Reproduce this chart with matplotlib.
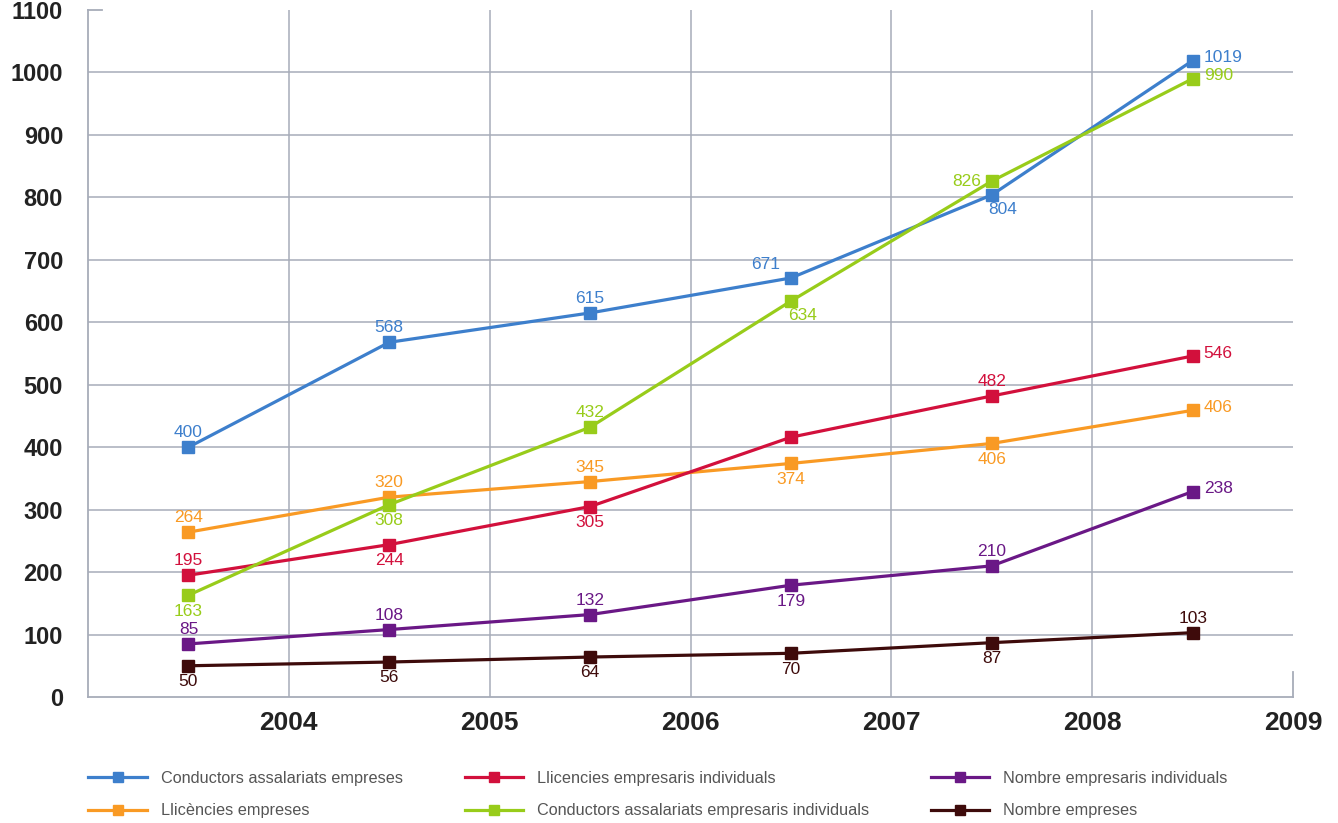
import matplotlib.pyplot as plt

plt.rcParams['font.family'] = ['Liberation Sans', 'DejaVu Sans']

# x positions: middle of each year
years = [2003.5, 2004.5, 2005.5, 2006.5, 2007.5, 2008.5]
year_ticks = [2004, 2005, 2006, 2007, 2008, 2009]
y_ticks = [0, 100, 200, 300, 400, 500, 600, 700, 800, 900, 1000, 1100]

names = ["Conductors assalariats empreses", "Llicències empreses",
         "Llicencies empresaris individuals", "Conductors assalariats empresaris individuals",
         "Nombre empresaris individuals", "Nombre empreses"]

# plotted heights and the numbers printed next to them
blue = [400, 568, 615, 671, 804, 1019]
blue_lbl = ["400", "568", "615", "671", "804", "1019"]
orange = [264, 320, 345, 374, 406, 459]
orange_lbl = ["264", "320", "345", "374", "406", "406"]
red = [195, 244, 305, 416, 482, 546]
red_lbl = ["195", "244", "305", None, "482", "546"]
green = [163, 308, 432, 634, 826, 990]
green_lbl = ["163", "308", "432", "634", "826", "990"]
purple = [85, 108, 132, 179, 210, 329]
purple_lbl = ["85", "108", "132", "179", "210", "238"]
brown = [50, 56, 64, 70, 87, 103]
brown_lbl = ["50", "56", "64", "70", "87", "103"]

series = [blue, orange, red, green, purple, brown]
labels = [blue_lbl, orange_lbl, red_lbl, green_lbl, purple_lbl, brown_lbl]
colors = ['#3d7fcc', '#f99a24', '#d2103c', '#98cc1a', '#6a1886', '#3e0b0b']

# where each number sits relative to its point
places = [
    ['a', 'a', 'a', 'al', 'br', 'r'],
    ['a', 'a', 'a', 'b', 'b', 'r'],
    ['a', 'b', 'b', 'a', 'a', 'r'],
    ['b', 'b', 'a', 'br', 'l', 'r'],
    ['a', 'a', 'a', 'b', 'a', 'r'],
    ['b', 'b', 'b', 'b', 'b', 'a'],
]
offs = {
    'a': ((0, 5), 'center', 'bottom'),
    'b': ((0, -6), 'center', 'top'),
    'r': ((8, 2), 'left', 'center'),
    'l': ((-8, 0), 'right', 'center'),
    'al': ((-8, 4), 'right', 'bottom'),
    'br': ((8, -5), 'center', 'top'),
}

fig = plt.figure(figsize=(13.38, 8.23), dpi=100)
ax = fig.add_axes([0.0658, 0.1531, 0.9006, 0.8347])

grid_c = '#a7acb9'
for v in y_ticks[1:-1]:
    ax.axhline(v, color=grid_c, lw=1.1, zorder=1)
for yr in year_ticks[:-1]:
    ax.axvline(yr, color=grid_c, lw=1.1, zorder=1)

handles = []
for vals, lbls, col, pl, nm in zip(series, labels, colors, places, names):
    h, = ax.plot(years, vals, color=col, lw=2.3, marker='s', markersize=8,
                 label=nm, zorder=3)
    handles.append(h)
    for x, v, t, p in zip(years, vals, lbls, pl):
        if t is None:
            continue
        (dx, dy), ha, va = offs[p]
        ax.annotate(t, (x, v), xytext=(dx, dy), textcoords='offset points',
                    ha=ha, va=va, color=col, fontsize=12.5, zorder=4)

ax.set_xlim(2003, 2009)
ax.set_ylim(0, 1100)
ax.set_xticks(year_ticks)
ax.set_xticklabels([str(y) for y in year_ticks], fontsize=19, fontweight='bold',
                   color='#222222')
ax.set_yticks(y_ticks)
ax.set_yticklabels([str(v) for v in y_ticks], fontsize=17, fontweight='bold',
                   color='#222222')
ax.tick_params(axis='both', length=0)
ax.tick_params(axis='x', pad=10)
ax.tick_params(axis='y', pad=18)

for s in ['top', 'right']:
    ax.spines[s].set_visible(False)
for s in ['left', 'bottom']:
    ax.spines[s].set_color(grid_c)
    ax.spines[s].set_linewidth(1.3)
# small end ticks: top of the y axis and right end of x axis
ax.plot([2003, 2003.07], [1100, 1100], color=grid_c, lw=1.3, clip_on=False)
ax.plot([2009, 2009], [0, 40], color=grid_c, lw=1.3, clip_on=False)

fig.legend(handles=handles, loc='upper left', bbox_to_anchor=(0.066, 0.063),
           ncol=3, frameon=False, fontsize=11.7, handlelength=3.6, handletextpad=0.86,
           columnspacing=3.8, labelspacing=1.05, borderpad=0, borderaxespad=0,
           labelcolor='#555555', markerscale=0.9)

fig.savefig('out.png', dpi=100, facecolor='white')
